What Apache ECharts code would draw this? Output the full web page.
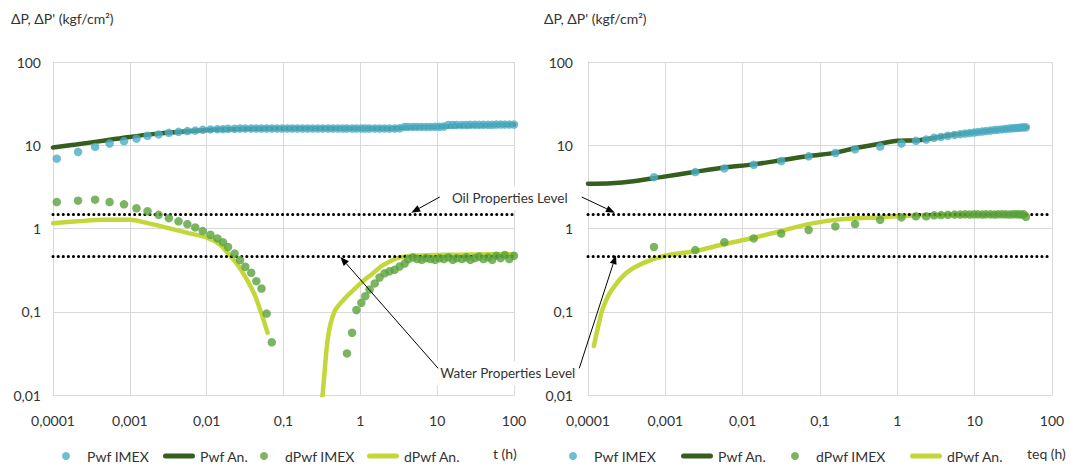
<!DOCTYPE html>
<html><head><meta charset="utf-8">
<script src="https://cdn.jsdelivr.net/npm/echarts@6/dist/echarts.min.js"></script>
<style>html,body{margin:0;padding:0;background:#fff}#c{width:1070px;height:468px}</style>
</head><body><div id="c"></div>
<script>
// ---------- texts / ticks ----------
const xTickLabels = ['0,0001', '0,001', '0,01', '0,1', '1', '10', '100'];
const yTickLabels = ['0,01', '0,1', '1', '10', '100'];
const seriesNames = ['Pwf IMEX', 'Pwf An.', 'dPwf IMEX', 'dPwf An.'];
const xAxisNames = ['t (h)', 'teq (h)'];
const yAxisTitle = "ΔP, ΔP' (kgf/cm²)";
const levelValues = [1.5, 0.47];              // oil, water property levels
const levelLabels = ['Oil Properties Level', 'Water Properties Level'];

// ---------- left chart (t) ----------
const tImexL = [0.000112, 0.000212, 0.000353, 0.000545, 0.00084, 0.00122, 0.0017, 0.00237, 0.00322, 0.0043,
  0.0056, 0.0071, 0.0089, 0.0112, 0.0138, 0.0163, 0.019, 0.0231, 0.0272, 0.0318,
  0.038, 0.0443, 0.0517, 0.0603, 0.0704, 0.082, 0.096, 0.112, 0.13, 0.152,
  0.177, 0.206, 0.24, 0.28, 0.326, 0.38, 0.44, 0.51, 0.59, 0.67,
  0.78, 0.89, 1.03, 1.16, 1.32, 1.54, 1.78, 2.07, 2.4, 2.8,
  3.25, 3.78, 4.2, 4.85, 5.5, 6.3, 7.2, 8.2, 9.4, 10.7,
  12.2, 14, 16, 18, 21, 24, 27, 31, 35, 40,
  46, 52, 59, 67, 76, 87, 100];
const pwfImexL = [6.9, 8.3, 9.55, 10.5, 11.2, 12.0, 13.0, 13.5, 14.1, 14.5,
  14.8, 15.0, 15.3, 15.5, 15.6, 15.6, 15.8, 15.8, 15.9, 15.9,
  15.9, 15.9, 15.9, 15.9, 15.9, 15.9, 15.9, 15.9, 15.9, 15.9,
  15.9, 15.9, 15.9, 15.9, 15.9, 15.9, 15.9, 15.9, 15.9, 15.9,
  15.9, 15.9, 15.9, 15.9, 15.9, 15.9, 15.9, 15.9, 15.9, 15.9,
  16.0, 16.6, 16.6, 16.6, 16.6, 16.6, 16.6, 16.6, 16.7, 16.7,
  16.8, 17.5, 17.5, 17.5, 17.5, 17.5, 17.6, 17.6, 17.6, 17.6,
  17.6, 17.6, 17.7, 17.7, 17.7, 17.7, 17.7];
const dpwfImexL = [2.08, 2.16, 2.22, 2.08, 1.95, 1.75, 1.61, 1.46, 1.33, 1.22,
  1.13, 1.03, 0.93, 0.84, 0.76, 0.685, 0.60, 0.50, 0.417, 0.347,
  0.294, 0.233, 0.19, 0.095, 0.043, null, null, null, null, null,
  null, null, null, null, null, null, null, null, null, 0.0316,
  0.056, 0.105, 0.128, 0.154, 0.185, 0.219, 0.258, 0.29, 0.307, 0.32,
  0.35, 0.38, 0.425, 0.45, 0.43, 0.42, 0.44, 0.43, 0.42, 0.44,
  0.43, 0.45, 0.42, 0.44, 0.43, 0.45, 0.42, 0.44, 0.46, 0.43,
  0.45, 0.42, 0.47, 0.44, 0.48, 0.43, 0.47];
const tPwfAnL = [0.0001, 0.0002, 0.0005, 0.001, 0.002, 0.005, 0.01, 0.02, 0.05, 0.1, 0.2, 0.5, 1, 2, 3, 5, 10, 20, 50, 100];
const pwfAnL = [9.4, 10.2, 11.5, 12.6, 13.6, 14.6, 15.2, 15.6, 15.8, 15.9, 15.9, 15.9, 15.9, 15.9, 16.0, 16.4, 16.7, 17.1, 17.5, 17.7];
const tDAnL1 = [0.0001, 0.00021, 0.00046, 0.001, 0.0017, 0.0032, 0.0058, 0.0099, 0.0149, 0.0194, 0.0251, 0.0324, 0.042, 0.0513, 0.062];
const dAnL1 = [1.16, 1.22, 1.27, 1.27, 1.16, 1.01, 0.88, 0.78, 0.64, 0.49, 0.37, 0.256, 0.161, 0.097, 0.056];
const tDAnL2 = [0.3, 0.327, 0.38, 0.46, 0.61, 0.8, 1.03, 1.46, 1.9, 2.6, 2.94, 3.5, 4.8, 9.3, 20, 50, 100];
const dAnL2 = [0.005, 0.0115, 0.05, 0.1, 0.14, 0.18, 0.224, 0.29, 0.355, 0.415, 0.437, 0.455, 0.47, 0.48, 0.485, 0.49, 0.49];

// ---------- right chart (teq) ----------
const tImexR = [0.000713, 0.00244, 0.0058, 0.0139, 0.0315, 0.0713, 0.158, 0.284, 0.6, 1.13,
  1.74, 2.36, 2.99, 3.67, 4.5, 5.5, 6.5, 7.5, 8.6, 9.8,
  11, 12.5, 14, 16, 18, 20, 22.5, 25, 28, 31,
  34, 37, 40, 43, 46];
const pwfImexR = [4.14, 4.76, 5.27, 5.83, 6.46, 7.36, 8.08, 8.95, 9.63, 10.5,
  11.3, 11.7, 12.3, 12.6, 13.0, 13.3, 13.6, 13.8, 14.0, 14.2,
  14.4, 14.6, 14.8, 15.0, 15.2, 15.4, 15.5, 15.7, 15.9, 16.0,
  16.1, 16.2, 16.3, 16.4, 16.4];
const dpwfImexR = [0.60, 0.55, 0.685, 0.76, 0.87, 0.96, 1.06, 1.13, 1.27, 1.36,
  1.40, 1.40, 1.44, 1.45, 1.46, 1.47, 1.47, 1.48, 1.47, 1.48,
  1.48, 1.47, 1.48, 1.48, 1.47, 1.48, 1.48, 1.48, 1.47, 1.48,
  1.48, 1.48, 1.47, 1.48, 1.38];
const tPwfAnR = [0.0001, 0.0002, 0.000386, 0.00088, 0.00244, 0.0055, 0.0138, 0.031, 0.071, 0.16, 0.28, 0.55, 1.02, 1.9, 5, 10, 20, 47];
const pwfAnR = [3.44, 3.5, 3.7, 4.14, 4.8, 5.37, 5.89, 6.59, 7.43, 8.15, 9.2, 10.3, 11.3, 11.5, 13.3, 14.3, 15.3, 16.4];
const tDAnR = [0.000119, 0.000139, 0.000154, 0.000199, 0.000315, 0.000525, 0.00102, 0.00244, 0.0055, 0.0138, 0.031, 0.071, 0.16, 0.28, 0.55, 1.02, 2, 5, 20, 47];
const dAnR = [0.0387, 0.074, 0.107, 0.177, 0.294, 0.387, 0.474, 0.535, 0.643, 0.773, 0.93, 1.13, 1.27, 1.33, 1.36, 1.40, 1.44, 1.46, 1.47, 1.47];

// ---------- annotations (data coordinates of the grid they belong to) ----------
const annotArrows = [
  { grid: 0, from: [10.8, 2.39], to: [4.6, 1.55] },
  { grid: 1, from: [8.3e-5, 2.39], to: [2.23e-4, 1.55] },
  { grid: 0, from: [10.3, 0.0209], to: [0.55, 0.456] },
  { grid: 1, from: [7.7e-5, 0.0209], to: [2.3e-4, 0.478] }
];
const annotTexts = [
  { grid: 0, at: [88, 2.31], text: levelLabels[0] },
  { grid: 0, at: [83, 0.0183], text: levelLabels[1] }
];

// ---------- styling ----------
const FONT = 'Lato';
const FS = 14;
const TXT = '#333333';
const GRIDC = '#D9D9D9';
const C_CYAN = '#4BACC6', C_DARK = '#355E1F', C_GREEN = '#5AA33C', C_YEL = '#C3D73B';
const BAR_ICON = 'path://M2.5,0 L29.5,0 A2.5,2.5 0 0 1 29.5,5 L2.5,5 A2.5,2.5 0 0 1 2.5,0 Z';

const pairs = (xs, ys) => xs.map((x, i) => [x, ys[i]]).filter(p => p[1] !== null && p[1] !== undefined);
const xFmt = v => xTickLabels[Math.round(Math.log10(v)) + 4] || '';
const yFmt = v => yTickLabels[Math.round(Math.log10(v)) + 2] || '';

function xAxis(i) {
  return {
    type: 'log', logBase: 10, gridIndex: i, min: 0.0001, max: 100,
    axisLine: { show: true, lineStyle: { color: GRIDC, width: 1 } },
    axisTick: { show: false },
    splitLine: { show: true, lineStyle: { color: GRIDC, width: 1 } },
    axisLabel: { formatter: xFmt, color: TXT, fontFamily: FONT, fontSize: FS, margin: 18 }
  };
}
function yAxis(i, margin) {
  return {
    type: 'log', logBase: 10, gridIndex: i, min: 0.01, max: 100,
    axisLine: { show: true, lineStyle: { color: GRIDC, width: 1 } },
    axisTick: { show: false },
    splitLine: { show: true, lineStyle: { color: GRIDC, width: 1 } },
    axisLabel: { formatter: yFmt, color: TXT, fontFamily: FONT, fontSize: FS, margin }
  };
}
const levelMarkLine = {
  silent: true, symbol: ['none', 'none'], label: { show: false },
  lineStyle: { color: '#000', width: 3, type: [0.1, 5], cap: 'round' },
  data: levelValues.map(v => ({ yAxis: v }))
};
function scatter(name, i, data, color, z) {
  return { name, type: 'scatter', xAxisIndex: i, yAxisIndex: i, data, symbol: 'circle', symbolSize: 8.5,
    itemStyle: { color }, z };
}
function line(name, i, data, color, z, extra) {
  return Object.assign({ name, type: 'line', xAxisIndex: i, yAxisIndex: i, data, symbol: 'none', showSymbol: false,
    smooth: 0.3, lineStyle: { color, width: 4.5, cap: 'round' }, itemStyle: { color }, z }, extra || {});
}
// one legend per item so that each entry sits where it does in the reference
const legendItems = [
  { name: seriesNames[0] },
  { name: seriesNames[1], icon: BAR_ICON },
  { name: seriesNames[2] },
  { name: seriesNames[3], icon: BAR_ICON }
];
const legendLeftsL = [57, 158, 255, 362];
const legendLeftsR = [564, 676, 786, 905];
function legend(left, item) {
  return { left, top: 444, itemWidth: 32, itemHeight: 8, data: [item], selectedMode: false,
    textStyle: { color: TXT, fontFamily: FONT, fontSize: FS } };
}
function title(text, left, top) {
  return { text, left, top, padding: 0, textStyle: { color: TXT, fontFamily: FONT, fontSize: FS, fontWeight: 'normal' } };
}

const chart = echarts.init(document.getElementById('c'), null, { renderer: 'svg', width: 1070, height: 468 });
chart.setOption({
  animation: false,
  backgroundColor: '#fff',
  title: [title(yAxisTitle, 11, 11), title(yAxisTitle, 544, 11), title(xAxisNames[0], 493, 446), title(xAxisNames[1], 1027, 446)],
  legend: legendItems.map((it, k) => legend(legendLeftsL[k], it)).concat(legendItems.map((it, k) => legend(legendLeftsR[k], it))),
  grid: [
    { left: 53, right: 556, top: 62, bottom: 73 },
    { left: 588, right: 18, top: 62, bottom: 73 }
  ],
  xAxis: [xAxis(0), xAxis(1)],
  yAxis: [yAxis(0, 12), yAxis(1, 15)],
  series: [
    scatter(seriesNames[0], 0, pairs(tImexL, pwfImexL), C_CYAN, 5),
    line(seriesNames[1], 0, pairs(tPwfAnL, pwfAnL), C_DARK, 3, { markLine: levelMarkLine }),
    scatter(seriesNames[2], 0, pairs(tImexL, dpwfImexL), C_GREEN, 6),
    line(seriesNames[3], 0, pairs(tDAnL1, dAnL1), C_YEL, 4),
    line(seriesNames[3], 0, pairs(tDAnL2, dAnL2), C_YEL, 4),
    scatter(seriesNames[0], 1, pairs(tImexR, pwfImexR), C_CYAN, 5),
    line(seriesNames[1], 1, pairs(tPwfAnR, pwfAnR), C_DARK, 3, { markLine: levelMarkLine }),
    scatter(seriesNames[2], 1, pairs(tImexR, dpwfImexR), C_GREEN, 6),
    line(seriesNames[3], 1, pairs(tDAnR, dAnR), C_YEL, 4)
  ]
});

// annotations: positions through the axes' own scales
const px = (g, p) => chart.convertToPixel({ xAxisIndex: g, yAxisIndex: g }, p);
const graphics = [];
annotArrows.forEach(a => {
  const p0 = px(a.grid, a.from), p1 = px(a.grid, a.to);
  const ang = Math.atan2(p1[1] - p0[1], p1[0] - p0[0]);
  const L = 9, W = 3.5;
  const bx = p1[0] - L * Math.cos(ang), by = p1[1] - L * Math.sin(ang);
  graphics.push({ type: 'line', z: 100, silent: true,
    shape: { x1: p0[0], y1: p0[1], x2: bx, y2: by }, style: { stroke: '#000', lineWidth: 1 } });
  graphics.push({ type: 'polygon', z: 100, silent: true,
    shape: { points: [[p1[0], p1[1]], [bx + W * Math.sin(ang), by - W * Math.cos(ang)], [bx - W * Math.sin(ang), by + W * Math.cos(ang)]] },
    style: { fill: '#000' } });
});
annotTexts.forEach(t => {
  const p = px(t.grid, t.at);
  graphics.push({ type: 'text', z: 99, silent: true, x: p[0], y: p[1],
    style: { text: t.text, font: '13.5px ' + FONT, fill: TXT, align: 'center', verticalAlign: 'middle',
      backgroundColor: '#fff', padding: [5, 6] } });
});
chart.setOption({ graphic: graphics });
</script>
</body></html>
